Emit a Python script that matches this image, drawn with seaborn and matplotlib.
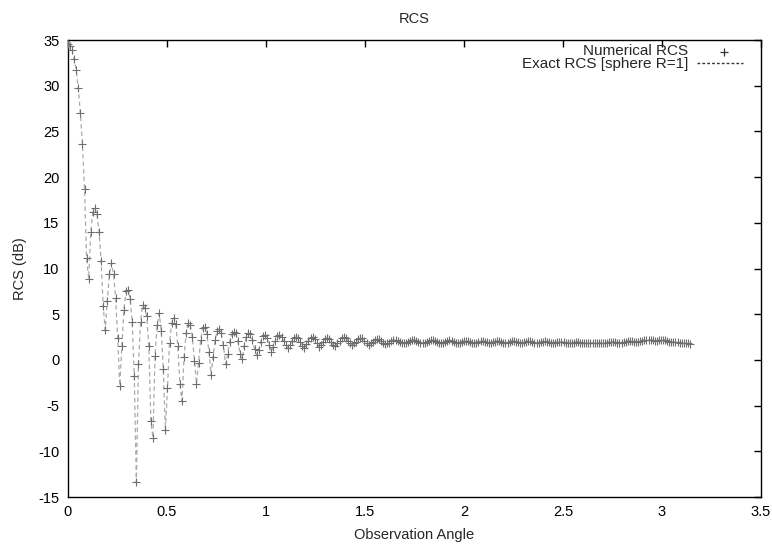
import numpy as np
import pandas as pd
import seaborn as sns
import matplotlib.pyplot as plt
from matplotlib.ticker import FormatStrFormatter, MultipleLocator

# RCS values (dB), one every 0.6 degree from 0 to 180 degrees
main_lobe = [34.6, 34.4, 33.9, 32.9, 31.7, 29.7, 27.0, 23.6, 18.7, 11.1, 8.9,
             14.0, 16.2, 16.6, 16.0, 14.0, 10.8, 5.9, 3.3,
             6.5, 9.4, 10.6, 9.4, 6.8, 2.4, -2.8,
             1.5, 5.5, 7.5, 7.6, 6.7, 4.1, -1.8, -13.4]
near_lobes = [-0.5, 4.1, 6.0, 5.7, 4.8, 1.5, -6.7, -8.5,
              0.4, 3.8, 5.1, 3.2, -1.0, -7.7, -3.1,
              1.9, 4.0, 4.6, 3.9, 1.5,
              -2.6, -4.5, 0.3, 2.9, 4.0, 3.8, 2.5, -0.1, -2.6,
              -0.3, 2.2, 3.5, 3.6, 2.8, 0.9, -1.6,
              0.3, 2.2, 3.2, 3.4, 2.9, 1.6, -0.5]
mid_lobes = [0.6, 2.0, 2.8, 3.1, 2.9, 2.1, 0.6, 0.1,
             1.5, 2.5, 2.9, 2.8, 2.2, 1.2, 0.5,
             1.1, 2.0, 2.6, 2.7, 2.4, 1.6, 0.9,
             1.4, 2.1, 2.6, 2.7, 2.5, 2.1, 1.6, 1.3,
             1.6, 2.1, 2.4, 2.5, 2.4, 2.0, 1.5, 1.3,
             1.7, 2.1, 2.4, 2.5, 2.3, 1.9, 1.4,
             1.6, 2.0, 2.3, 2.4, 2.3, 2.0, 1.6, 1.5,
             1.8, 2.1, 2.4, 2.5, 2.4, 2.1, 1.8]
back_region = [1.6, 1.8, 2.0, 2.3, 2.4, 2.4, 2.1, 1.8,
               1.6, 1.8, 2.0, 2.2, 2.3, 2.3, 2.1, 1.9,
               1.7, 1.8, 1.9, 2.1, 2.2, 2.2, 2.1, 2.0, 1.8, 1.8, 1.9,
               2.0, 2.1, 2.2, 2.2, 2.1, 2.0, 1.9, 1.8,
               1.9, 2.0, 2.1, 2.2, 2.2, 2.1, 2.0, 1.9,
               1.8, 1.9, 2.0, 2.1, 2.2, 2.1, 2.0, 1.9,
               1.9, 1.9, 2.0, 2.1, 2.1, 2.1, 2.0, 1.9,
               1.9, 1.9, 2.0, 2.1, 2.1, 2.0, 2.0, 1.9,
               1.9, 2.0, 2.0, 2.1, 2.1, 2.0, 1.9, 1.9,
               1.9, 2.0, 2.1, 2.1, 2.0, 2.0, 1.9, 1.9,
               2.0, 2.0, 2.1, 2.1, 2.0, 1.9, 1.9, 1.9,
               2.0, 2.0, 2.1, 2.0, 2.0, 1.9, 1.9, 1.9,
               2.0, 2.0, 2.0, 2.0, 1.9, 1.9, 1.9, 1.9,
               1.9, 2.0, 2.0, 1.9, 1.9, 1.9, 1.8, 1.9,
               1.9, 1.9, 1.9, 1.9, 1.9, 1.9, 1.9, 1.9,
               1.9, 2.0, 2.0, 2.0, 2.0, 1.9, 1.9, 1.9,
               2.0, 2.0, 2.1, 2.1, 2.1, 2.0, 2.0, 2.0,
               2.1, 2.1, 2.2, 2.2, 2.2, 2.2, 2.2, 2.1,
               2.1, 2.2, 2.2, 2.2, 2.2, 2.1, 2.0, 2.0,
               2.0, 2.0, 2.0, 1.9, 1.9, 1.8, 1.8, 1.8, 1.7]

angle_step_deg = 0.6
rcs_db = main_lobe + near_lobes + mid_lobes + back_region
angle = np.deg2rad(angle_step_deg * np.arange(len(rcs_db)))
df = pd.DataFrame({'angle': angle, 'rcs': rcs_db})

sns.set_style('white')
plt.rcParams['font.family'] = ['Liberation Sans', 'DejaVu Sans']

fig = plt.figure(figsize=(7.72, 5.46), dpi=100)
ax = fig.add_axes([0.088, 0.0897, 0.8977, 0.837])

# exact solution: dashed light grey line, numerical: grey plus markers
sns.lineplot(data=df, x='angle', y='rcs', ax=ax, color='#aaaaaa',
             linestyle=(0, (3.5, 2.5)), linewidth=0.9, zorder=2)
sns.scatterplot(data=df, x='angle', y='rcs', ax=ax, marker='+',
                color='#6e6e6e', s=30, linewidth=0.8, zorder=3)

ax.set_xlim(0, 3.5)
ax.set_ylim(-15, 35)
ax.xaxis.set_major_locator(MultipleLocator(0.5))
ax.yaxis.set_major_locator(MultipleLocator(5))
ax.xaxis.set_major_formatter(FormatStrFormatter('%g'))
ax.yaxis.set_major_formatter(FormatStrFormatter('%g'))

for s in ax.spines.values():
    s.set_visible(True)
    s.set_color('black')
    s.set_linewidth(1.0)
ax.tick_params(direction='in', top=True, right=True, length=5, width=1,
               labelsize=10.5, colors='black', pad=6)

ax.set_xlabel('Observation Angle', fontsize=10.5, labelpad=6)
ax.set_ylabel('RCS (dB)', fontsize=10.5, labelpad=8)
ax.set_title('RCS', fontsize=10.5, pad=12)

# gnuplot-style key: right aligned text block, samples on the right
ax.text(0.8947, 0.962, 'Numerical RCS\nExact RCS [sphere R=1]',
        transform=ax.transAxes, ha='right', va='center',
        multialignment='right', linespacing=0.85, fontsize=11)
ax.plot([0.9466], [0.9744], transform=ax.transAxes, marker='+',
        color='#333333', markersize=6, markeredgewidth=0.9, linestyle='none')
ax.plot([0.9076, 0.974], [0.9497, 0.9497], transform=ax.transAxes,
        color='#333333', linestyle=(0, (2, 1.5)), linewidth=1.0)

fig.savefig('out.png', dpi=100)
